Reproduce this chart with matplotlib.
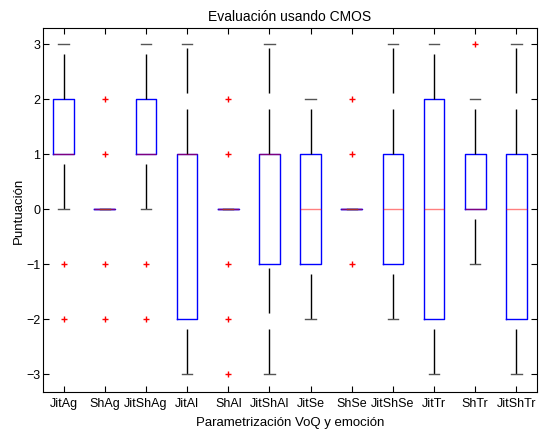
import matplotlib
matplotlib.use("Agg")
import matplotlib.pyplot as plt

plt.rcParams['font.family'] = ['Liberation Sans', 'DejaVu Sans']

labels = ["JitAg", "ShAg", "JitShAg", "JitAl", "ShAl", "JitShAl",
          "JitSe", "ShSe", "JitShSe", "JitTr", "ShTr", "JitShTr"]
q1 = [1, 0, 1, -2, 0, -1, -1, 0, -1, -2, 0, -2]
med = [1, 0, 1, 1, 0, 1, 0, 0, 0, 0, 0, 0]
q3 = [2, 0, 2, 1, 0, 1, 1, 0, 1, 2, 1, 1]
whislo = [0, 0, 0, -3, 0, -3, -2, 0, -2, -3, -1, -3]
whishi = [3, 0, 3, 3, 0, 3, 2, 0, 3, 3, 2, 3]
outliers = [[-1, -2], [2, 1, -1, -2], [-1, -2], [], [2, 1, -1, -2, -3], [],
            [], [2, 1, -1], [], [], [3], []]

stats = []
for i in range(len(labels)):
    stats.append(dict(label=labels[i], q1=q1[i], med=med[i], q3=q3[i],
                      whislo=whislo[i], whishi=whishi[i], fliers=outliers[i]))

fig = plt.figure(figsize=(5.39, 4.31), dpi=100)
ax = fig.add_axes([43/539, 1-393/431, (537-43)/539, (393-29)/431])

parts = ax.bxp(stats, widths=0.5, capwidths=0.25, patch_artist=False,
       boxprops=dict(color='#0000ff', linewidth=1.0),
       medianprops=dict(color='#ff0000', linewidth=1.0, alpha=0.5),
       whiskerprops=dict(color='black', linewidth=1.0, linestyle=(0, (32.4, 11.5))),
       capprops=dict(color='#555555', linewidth=1.0),
       flierprops=dict(marker='+', markeredgecolor='#ff0000', markersize=4,
                       linestyle='none', markeredgewidth=1.0))

# lower whiskers: dash pattern starts at the lower adjacent value
for w in parts['whiskers'][0::2]:
    w.set_ydata(list(w.get_ydata())[::-1])

ax.set_xlim(0.5, 12.5)
ax.set_ylim(-3.33, 3.29)
ax.set_yticks([-3, -2, -1, 0, 1, 2, 3])
ax.tick_params(direction='in', top=True, right=True, labelsize=9, length=4, width=0.8)
ax.tick_params(axis='y', pad=2)
for s in ax.spines.values():
    s.set_linewidth(0.8)
ax.set_title("Evaluación usando CMOS", fontsize=10, pad=6)
ax.set_xlabel("Parametrización VoQ y emoción", fontsize=9.5, labelpad=5)
ax.set_ylabel("Puntuación", fontsize=9.5, labelpad=1)

fig.savefig("out.png", dpi=100)
